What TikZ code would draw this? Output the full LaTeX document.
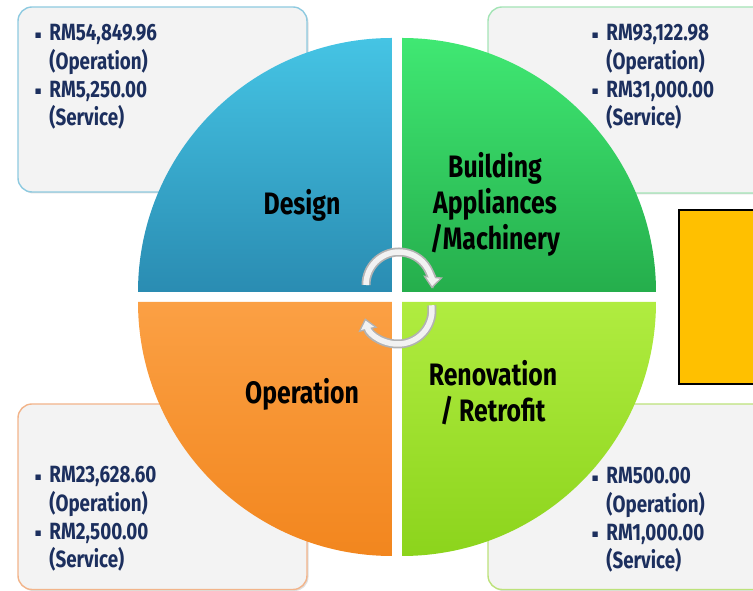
\documentclass[tikz,border=0pt]{standalone}
\usepackage{fontspec}
\setmainfont{Fira Sans}[FakeStretch=0.8]
\usetikzlibrary{arrows.meta,shadows}
\definecolor{dtop}{HTML}{45C4E4}
\definecolor{dbot}{HTML}{2A8CB2}
\definecolor{gtop}{HTML}{40E873}
\definecolor{gbot}{HTML}{25AE4C}
\definecolor{otop}{HTML}{FBA044}
\definecolor{obot}{HTML}{F2861E}
\definecolor{ltop}{HTML}{B0EC40}
\definecolor{lbot}{HTML}{8CD41C}
\definecolor{navy}{HTML}{1C2F5E}
\definecolor{boxfill}{HTML}{F3F3F3}
\definecolor{bblue}{HTML}{8ECAE0}
\definecolor{bgreen}{HTML}{A4E4B6}
\definecolor{borange}{HTML}{F2B48A}
\definecolor{blime}{HTML}{BCE27A}
\definecolor{amber}{HTML}{FFC000}
\tikzset{
  infobox/.style={fill=boxfill, line width=1.4pt, rounded corners=14pt,
    drop shadow={shadow xshift=1.5pt, shadow yshift=-1.5pt, opacity=0.25}},
  boxtext/.style={anchor=base west, inner sep=0pt, text=navy, font=\fontsize{23.5}{27.6}\selectfont\bfseries},
  bigtext/.style={align=center, inner sep=0pt, font=\fontsize{31}{36}\selectfont\bfseries},
  arrowout/.style={line width=9pt, color=gray!60, -{Triangle[width=19pt,length=12pt]}},
  arrowin/.style={line width=5.5pt, color=gray!10, shorten >=2.5pt, -{Triangle[width=13pt,length=8pt]}}
}
\newcommand{\costlist}[4]{\begin{tabular}[t]{@{}l@{\hspace{8pt}}l@{}}\raisebox{2.5pt}{\footnotesize$\blacksquare$}&#1\\&#2\\\raisebox{2.5pt}{\footnotesize$\blacksquare$}&#3\\&#4\end{tabular}}
\usepackage{amssymb}
\begin{document}
\begin{tikzpicture}[x=1pt,y=1pt]
\useasboundingbox (0,0) rectangle (753,591);
\begin{scope}
\clip (0,0) rectangle (753,591);
% info boxes
\draw[infobox, draw=bblue] (18,399) rectangle (307,584);
\draw[infobox, draw=bgreen] (488,398) rectangle (790,584);
\draw[infobox, draw=borange] (18,1.5) rectangle (307,187);
\draw[infobox, draw=blime] (488,1.5) rectangle (790,187);
% orange rectangle
\draw[fill=amber, draw=black, line width=2.2pt] (679,207) rectangle (790,381);
% quadrants
\shade[top color=dtop, bottom color=dbot] (392,299) -- (138,299) arc[start angle=180, end angle=90, radius=254] -- cycle;
\shade[top color=gtop, bottom color=gbot] (402,299) -- (402,553) arc[start angle=90, end angle=0, radius=254] -- cycle;
\shade[top color=otop, bottom color=obot] (392,289) -- (138,289) arc[start angle=180, end angle=270, radius=254] -- cycle;
\shade[top color=ltop, bottom color=lbot] (402,289) -- (656,289) arc[start angle=0, end angle=-90, radius=254] -- cycle;
% box texts
\node[boxtext] (tl) at (35,550) {\costlist{RM54,849.96}{(Operation)}{RM5,250.00}{(Service)}};
\node[boxtext] (tr) at (592,550) {\costlist{RM93,122.98}{(Operation)}{RM31,000.00}{(Service)}};
\node[boxtext] (bl) at (35,108) {\costlist{RM23,628.60}{(Operation)}{RM2,500.00}{(Service)}};
\node[boxtext] (br) at (592,107) {\costlist{RM500.00}{(Operation)}{RM1,000.00}{(Service)}};
% quadrant labels
\node[bigtext] (design) at (302,386) {Design};
\node[bigtext] (building) at (495,387) {Building\\Appliances\\/Machinery};
\node[bigtext] (operation) at (302,197) {Operation};
\node[bigtext] (renov) at (493,198) {Renovation\\/ Retrofit};
% cycle arrows
\coordinate (c1) at (399,306);
\coordinate (c2) at (398,281);
\draw[arrowout] (c1) ++(180:33) arc[start angle=180, end angle=-6, radius=33];
\draw[arrowin] (c1) ++(180:33) arc[start angle=180, end angle=-6, radius=33];
\draw[arrowout] (c2) ++(8:34) arc[start angle=8, end angle=-166, radius=34];
\draw[arrowin] (c2) ++(8:34) arc[start angle=8, end angle=-166, radius=34];
\end{scope}
\end{tikzpicture}
\end{document}
